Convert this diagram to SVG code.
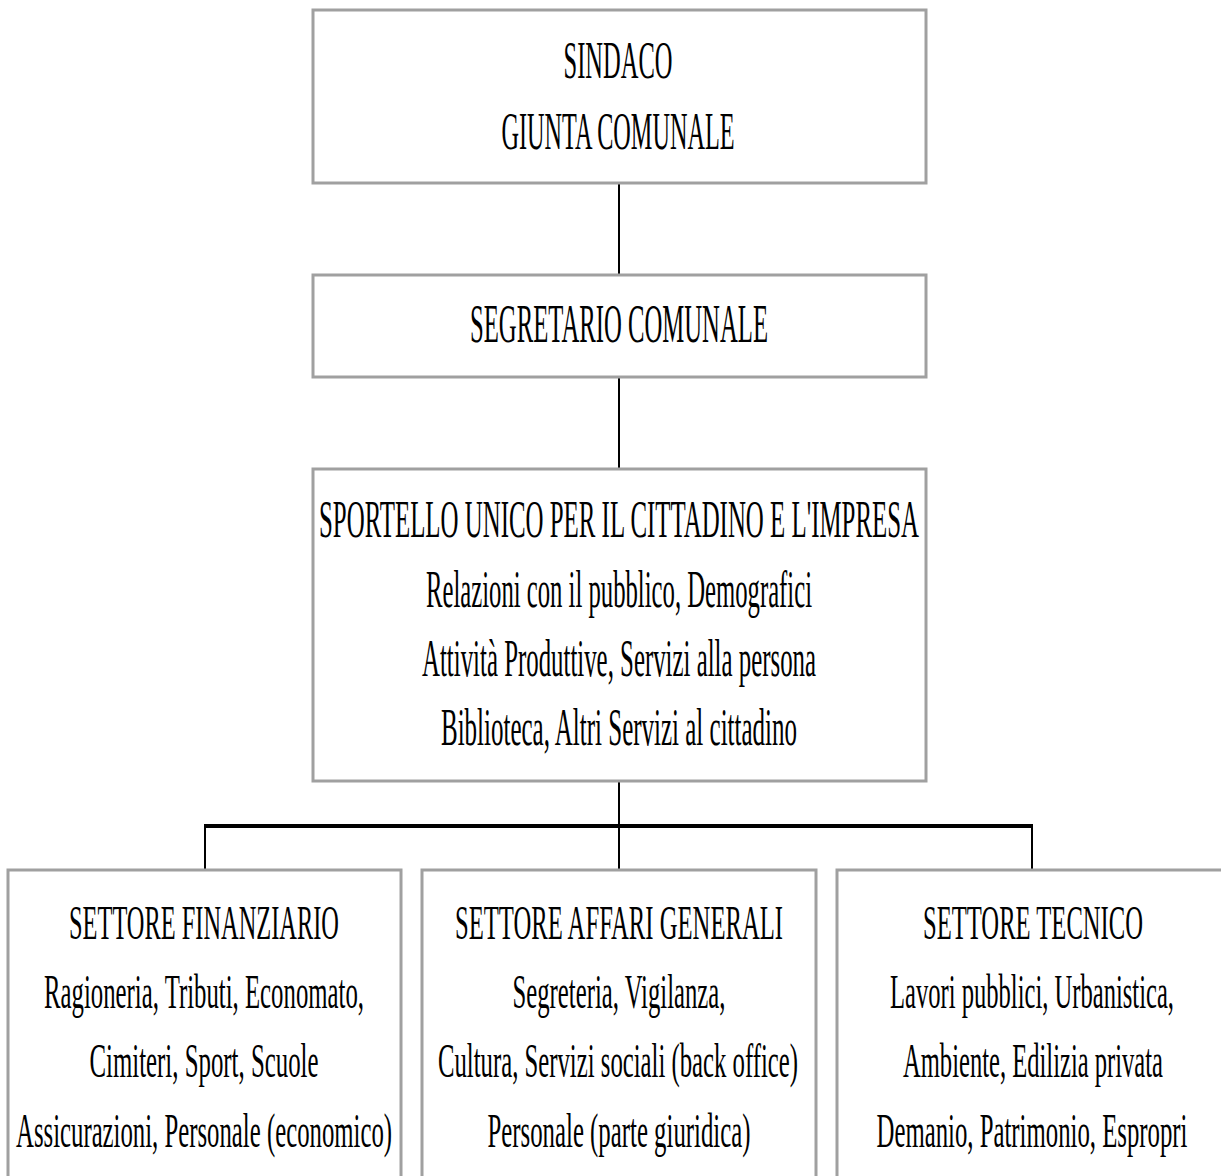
<svg xmlns="http://www.w3.org/2000/svg" width="1221" height="1176" viewBox="0 0 1221 1176">
<style>
.box{fill:#fff;stroke:#a0a0a0;stroke-width:3}
.t{font-family:"Liberation Serif","Times New Roman",serif;fill:#000;text-anchor:middle}
.f1{font-size:52px}
.f2{font-size:55px}
.f3{font-size:53px}
.f4{font-size:49px}
.c{stroke:#000;stroke-width:2;fill:none}
.bar{stroke:#000;stroke-width:4;fill:none}
</style>
<rect width="1221" height="1176" fill="#fff"/>
<g id="connectors">
<line class="c" x1="619" y1="183" x2="619" y2="275"/>
<line class="c" x1="619" y1="377" x2="619" y2="469"/>
<line class="c" x1="619" y1="781" x2="619" y2="826"/>
<line class="bar" x1="204" y1="826" x2="1033" y2="826"/>
<line class="c" x1="205" y1="826" x2="205" y2="870"/>
<line class="c" x1="619" y1="826" x2="619" y2="870"/>
<line class="c" x1="1032" y1="826" x2="1032" y2="870"/>
</g>
<g id="sindaco">
<rect class="box" x="313" y="10" width="613" height="173"/>
<text class="t f1" transform="translate(618 0) scale(0.5 1)" y="78" textLength="218" lengthAdjust="spacingAndGlyphs">SINDACO</text>
<text class="t f1" transform="translate(618 0) scale(0.5 1)" y="149" textLength="466" lengthAdjust="spacingAndGlyphs">GIUNTA COMUNALE</text>
</g>
<g id="segretario">
<rect class="box" x="313" y="275" width="613" height="102"/>
<text class="t f2" transform="translate(619 0) scale(0.5 1)" y="342" textLength="596" lengthAdjust="spacingAndGlyphs">SEGRETARIO COMUNALE</text>
</g>
<g id="sportello">
<rect class="box" x="313" y="469" width="613" height="312"/>
<text class="t f3" transform="translate(619 0) scale(0.5 1)" y="537" textLength="1200" lengthAdjust="spacingAndGlyphs">SPORTELLO UNICO PER IL CITTADINO E L'IMPRESA</text>
<text class="t f3" transform="translate(619 0) scale(0.5 1)" y="607" textLength="772" lengthAdjust="spacingAndGlyphs">Relazioni con il pubblico, Demografici</text>
<text class="t f3" transform="translate(619 0) scale(0.5 1)" y="676" textLength="788" lengthAdjust="spacingAndGlyphs">Attività Produttive, Servizi alla persona</text>
<text class="t f3" transform="translate(619 0) scale(0.5 1)" y="745" textLength="712" lengthAdjust="spacingAndGlyphs">Biblioteca, Altri Servizi al cittadino</text>
</g>
<g id="finanziario">
<rect class="box" x="8" y="870" width="393" height="330"/>
<text class="t f4" transform="translate(204 0) scale(0.5 1)" y="939" textLength="540" lengthAdjust="spacingAndGlyphs">SETTORE FINANZIARIO</text>
<text class="t f4" transform="translate(204 0) scale(0.5 1)" y="1008" textLength="640" lengthAdjust="spacingAndGlyphs">Ragioneria, Tributi, Economato,</text>
<text class="t f4" transform="translate(204 0) scale(0.5 1)" y="1077" textLength="458" lengthAdjust="spacingAndGlyphs">Cimiteri, Sport, Scuole</text>
<text class="t f4" transform="translate(204 0) scale(0.5 1)" y="1147" textLength="752" lengthAdjust="spacingAndGlyphs">Assicurazioni, Personale (economico)</text>
</g>
<g id="affari">
<rect class="box" x="422" y="870" width="394" height="330"/>
<text class="t f4" transform="translate(619 0) scale(0.5 1)" y="939" textLength="656" lengthAdjust="spacingAndGlyphs">SETTORE AFFARI GENERALI</text>
<text class="t f4" transform="translate(619 0) scale(0.5 1)" y="1008" textLength="426" lengthAdjust="spacingAndGlyphs">Segreteria, Vigilanza,</text>
<text class="t f4" transform="translate(618 0) scale(0.5 1)" y="1077" textLength="720" lengthAdjust="spacingAndGlyphs">Cultura, Servizi sociali (back office)</text>
<text class="t f4" transform="translate(619 0) scale(0.5 1)" y="1147" textLength="526" lengthAdjust="spacingAndGlyphs">Personale (parte giuridica)</text>
</g>
<g id="tecnico">
<rect class="box" x="837" y="870" width="394" height="330"/>
<text class="t f4" transform="translate(1033 0) scale(0.5 1)" y="939" textLength="440" lengthAdjust="spacingAndGlyphs">SETTORE TECNICO</text>
<text class="t f4" transform="translate(1032 0) scale(0.5 1)" y="1008" textLength="568" lengthAdjust="spacingAndGlyphs">Lavori pubblici, Urbanistica,</text>
<text class="t f4" transform="translate(1033 0) scale(0.5 1)" y="1077" textLength="520" lengthAdjust="spacingAndGlyphs">Ambiente, Edilizia privata</text>
<text class="t f4" transform="translate(1032 0) scale(0.5 1)" y="1147" textLength="622" lengthAdjust="spacingAndGlyphs">Demanio, Patrimonio, Espropri</text>
</g>
</svg>
